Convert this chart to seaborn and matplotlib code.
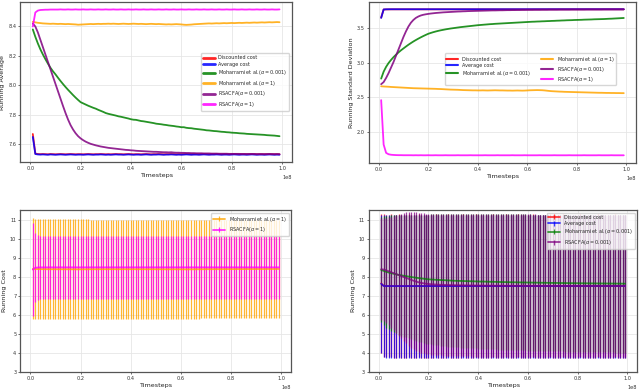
import numpy as np
import matplotlib
matplotlib.use("Agg")
import matplotlib.pyplot as plt
import seaborn as sns

# ---------------- data ----------------
timesteps = np.arange(1, 100) * 1_000_000

labels = ["Discounted cost", "Average cost",
          r"Moharrami et al.($\alpha = 0.001$)", r"Moharrami et al.($\alpha = 1$)",
          r"RSACFA($\alpha = 0.001$)", r"RSACFA($\alpha = 1$)"]
colors = ["red", "blue", "green", "orange", "purple", "magenta"]

avg_discounted = [
    7.670, 7.537, 7.534, 7.533, 7.534, 7.533, 7.532, 7.534, 7.533, 7.532,
    7.533, 7.534, 7.533, 7.532, 7.533, 7.534, 7.533, 7.532, 7.533, 7.533,
    7.532, 7.533, 7.534, 7.533, 7.532, 7.533, 7.533, 7.534, 7.533, 7.532,
    7.533, 7.532, 7.533, 7.534, 7.533, 7.533, 7.532, 7.533, 7.534, 7.533,
    7.532, 7.533, 7.533, 7.532, 7.533, 7.534, 7.533, 7.532, 7.533, 7.533,
    7.534, 7.533, 7.532, 7.533, 7.533, 7.534, 7.533, 7.532, 7.533, 7.532,
    7.533, 7.534, 7.533, 7.532, 7.533, 7.533, 7.532, 7.533, 7.534, 7.533,
    7.532, 7.533, 7.533, 7.534, 7.533, 7.532, 7.533, 7.533, 7.532, 7.533,
    7.534, 7.533, 7.532, 7.533, 7.533, 7.532, 7.533, 7.534, 7.533, 7.532,
    7.533, 7.533, 7.532, 7.533, 7.534, 7.533, 7.532, 7.533, 7.532]
avg_average = [
    7.650, 7.534, 7.531, 7.530, 7.531, 7.530, 7.529, 7.531, 7.530, 7.529,
    7.530, 7.531, 7.530, 7.529, 7.530, 7.531, 7.530, 7.529, 7.530, 7.530,
    7.529, 7.530, 7.531, 7.530, 7.529, 7.530, 7.530, 7.531, 7.530, 7.529,
    7.530, 7.529, 7.530, 7.531, 7.530, 7.530, 7.529, 7.530, 7.531, 7.530,
    7.529, 7.530, 7.530, 7.529, 7.530, 7.531, 7.530, 7.529, 7.530, 7.530,
    7.531, 7.530, 7.529, 7.530, 7.530, 7.531, 7.530, 7.529, 7.530, 7.529,
    7.530, 7.531, 7.530, 7.529, 7.530, 7.530, 7.529, 7.530, 7.531, 7.530,
    7.529, 7.530, 7.530, 7.531, 7.530, 7.529, 7.530, 7.530, 7.529, 7.530,
    7.531, 7.530, 7.529, 7.530, 7.530, 7.529, 7.530, 7.531, 7.530, 7.529,
    7.530, 7.530, 7.529, 7.530, 7.531, 7.530, 7.529, 7.530, 7.529]
avg_moh_001 = [
    8.380, 8.330, 8.285, 8.245, 8.210, 8.178, 8.148, 8.120, 8.096, 8.075,
    8.052, 8.030, 8.009, 7.989, 7.970, 7.952, 7.934, 7.917, 7.901, 7.886,
    7.878, 7.870, 7.862, 7.855, 7.848, 7.842, 7.834, 7.827, 7.820, 7.812,
    7.807, 7.803, 7.799, 7.795, 7.790, 7.787, 7.783, 7.779, 7.775, 7.770,
    7.767, 7.766, 7.762, 7.758, 7.756, 7.753, 7.750, 7.747, 7.744, 7.740,
    7.738, 7.736, 7.733, 7.731, 7.728, 7.726, 7.724, 7.721, 7.719, 7.716,
    7.716, 7.712, 7.710, 7.709, 7.706, 7.704, 7.702, 7.700, 7.698, 7.695,
    7.694, 7.692, 7.690, 7.689, 7.687, 7.685, 7.684, 7.682, 7.681, 7.679,
    7.678, 7.677, 7.675, 7.674, 7.673, 7.671, 7.670, 7.669, 7.668, 7.667,
    7.666, 7.665, 7.664, 7.662, 7.661, 7.660, 7.659, 7.657, 7.655]
avg_moh_1 = [
    8.432, 8.428, 8.425, 8.423, 8.421, 8.420, 8.419, 8.418, 8.419, 8.418,
    8.417, 8.418, 8.417, 8.416, 8.417, 8.416, 8.415, 8.414, 8.412, 8.413,
    8.414, 8.415, 8.416, 8.417, 8.416, 8.417, 8.418, 8.417, 8.418, 8.418,
    8.419, 8.418, 8.419, 8.418, 8.417, 8.418, 8.419, 8.418, 8.417, 8.418,
    8.419, 8.418, 8.417, 8.418, 8.417, 8.416, 8.417, 8.418, 8.417, 8.416,
    8.417, 8.416, 8.415, 8.414, 8.415, 8.414, 8.415, 8.416, 8.415, 8.414,
    8.412, 8.411, 8.412, 8.413, 8.415, 8.416, 8.417, 8.418, 8.419, 8.420,
    8.421, 8.420, 8.421, 8.422, 8.421, 8.422, 8.423, 8.422, 8.423, 8.424,
    8.423, 8.424, 8.425, 8.424, 8.425, 8.426, 8.425, 8.426, 8.427, 8.426,
    8.427, 8.428, 8.427, 8.428, 8.429, 8.428, 8.429, 8.430, 8.429]
avg_rsacfa_001 = [
    8.420, 8.400, 8.360, 8.310, 8.260, 8.210, 8.160, 8.110, 8.060, 8.010,
    7.960, 7.910, 7.860, 7.812, 7.768, 7.730, 7.700, 7.675, 7.655, 7.640,
    7.628, 7.618, 7.610, 7.603, 7.598, 7.593, 7.589, 7.585, 7.582, 7.579,
    7.576, 7.574, 7.572, 7.570, 7.568, 7.566, 7.564, 7.562, 7.561, 7.559,
    7.558, 7.556, 7.555, 7.554, 7.553, 7.552, 7.551, 7.550, 7.549, 7.549,
    7.548, 7.547, 7.546, 7.546, 7.545, 7.546, 7.544, 7.543, 7.543, 7.542,
    7.542, 7.541, 7.541, 7.540, 7.540, 7.539, 7.539, 7.539, 7.538, 7.538,
    7.538, 7.537, 7.537, 7.537, 7.536, 7.536, 7.536, 7.536, 7.535, 7.535,
    7.535, 7.535, 7.535, 7.534, 7.534, 7.534, 7.534, 7.534, 7.534, 7.533,
    7.533, 7.533, 7.533, 7.533, 7.533, 7.533, 7.533, 7.533, 7.533]
avg_rsacfa_1 = [
    8.400, 8.495, 8.508, 8.512, 8.513, 8.514, 8.514, 8.515, 8.515, 8.515,
    8.515, 8.516, 8.515, 8.515, 8.516, 8.515, 8.515, 8.516, 8.515, 8.515,
    8.516, 8.515, 8.515, 8.516, 8.515, 8.515, 8.516, 8.515, 8.515, 8.516,
    8.515, 8.515, 8.516, 8.515, 8.515, 8.516, 8.515, 8.515, 8.516, 8.515,
    8.515, 8.516, 8.515, 8.515, 8.516, 8.515, 8.515, 8.516, 8.515, 8.515,
    8.516, 8.515, 8.515, 8.516, 8.515, 8.515, 8.516, 8.515, 8.515, 8.516,
    8.515, 8.515, 8.516, 8.515, 8.515, 8.516, 8.515, 8.515, 8.516, 8.515,
    8.515, 8.516, 8.515, 8.515, 8.516, 8.515, 8.515, 8.516, 8.515, 8.515,
    8.516, 8.515, 8.515, 8.516, 8.515, 8.515, 8.516, 8.515, 8.515, 8.516,
    8.515, 8.515, 8.516, 8.515, 8.515, 8.516, 8.515, 8.515, 8.516]

std_discounted = [
    3.650, 3.766, 3.768, 3.768, 3.769, 3.769, 3.769, 3.769, 3.769, 3.769,
    3.769, 3.769, 3.769, 3.769, 3.769, 3.769, 3.769, 3.769, 3.769, 3.769,
    3.769, 3.769, 3.769, 3.769, 3.769, 3.769, 3.769, 3.769, 3.769, 3.769,
    3.769, 3.769, 3.769, 3.769, 3.769, 3.769, 3.769, 3.769, 3.769, 3.769,
    3.769, 3.769, 3.769, 3.769, 3.769, 3.769, 3.769, 3.769, 3.769, 3.769,
    3.769, 3.769, 3.769, 3.769, 3.769, 3.769, 3.769, 3.769, 3.769, 3.769,
    3.769, 3.769, 3.769, 3.769, 3.769, 3.769, 3.769, 3.769, 3.769, 3.769,
    3.769, 3.769, 3.769, 3.769, 3.769, 3.769, 3.769, 3.769, 3.769, 3.769,
    3.769, 3.769, 3.769, 3.769, 3.769, 3.769, 3.769, 3.769, 3.769, 3.769,
    3.769, 3.769, 3.769, 3.769, 3.769, 3.769, 3.769, 3.769, 3.769]
std_average = [
    3.645, 3.767, 3.769, 3.770, 3.770, 3.770, 3.770, 3.770, 3.770, 3.770,
    3.770, 3.770, 3.770, 3.770, 3.770, 3.770, 3.770, 3.770, 3.770, 3.770,
    3.770, 3.770, 3.770, 3.770, 3.770, 3.770, 3.770, 3.770, 3.770, 3.770,
    3.770, 3.770, 3.770, 3.770, 3.770, 3.770, 3.770, 3.770, 3.770, 3.770,
    3.770, 3.770, 3.770, 3.770, 3.770, 3.770, 3.770, 3.770, 3.770, 3.770,
    3.770, 3.770, 3.770, 3.770, 3.770, 3.770, 3.770, 3.770, 3.770, 3.770,
    3.770, 3.770, 3.770, 3.770, 3.770, 3.770, 3.770, 3.770, 3.770, 3.770,
    3.770, 3.770, 3.770, 3.770, 3.770, 3.770, 3.770, 3.770, 3.770, 3.770,
    3.770, 3.770, 3.770, 3.770, 3.770, 3.770, 3.770, 3.770, 3.770, 3.770,
    3.770, 3.770, 3.770, 3.770, 3.770, 3.770, 3.770, 3.770, 3.770]
std_moh_001 = [
    2.770, 2.870, 2.940, 2.995, 3.040, 3.080, 3.115, 3.148, 3.178, 3.205,
    3.232, 3.258, 3.282, 3.305, 3.326, 3.346, 3.365, 3.383, 3.400, 3.416,
    3.428, 3.439, 3.449, 3.458, 3.466, 3.473, 3.480, 3.486, 3.492, 3.497,
    3.502, 3.507, 3.512, 3.516, 3.520, 3.524, 3.528, 3.532, 3.536, 3.540,
    3.543, 3.546, 3.549, 3.552, 3.555, 3.557, 3.560, 3.562, 3.564, 3.566,
    3.568, 3.570, 3.572, 3.574, 3.576, 3.578, 3.580, 3.582, 3.584, 3.586,
    3.588, 3.590, 3.591, 3.593, 3.594, 3.596, 3.597, 3.599, 3.600, 3.602,
    3.603, 3.605, 3.606, 3.608, 3.609, 3.611, 3.612, 3.613, 3.615, 3.616,
    3.617, 3.618, 3.620, 3.621, 3.622, 3.623, 3.625, 3.626, 3.627, 3.628,
    3.629, 3.631, 3.633, 3.634, 3.636, 3.638, 3.640, 3.642, 3.644]
std_moh_1 = [
    2.660, 2.657, 2.655, 2.653, 2.650, 2.648, 2.646, 2.644, 2.642, 2.640,
    2.638, 2.636, 2.634, 2.632, 2.631, 2.630, 2.629, 2.628, 2.627, 2.626,
    2.625, 2.624, 2.623, 2.621, 2.620, 2.618, 2.616, 2.614, 2.612, 2.611,
    2.610, 2.609, 2.607, 2.605, 2.604, 2.603, 2.602, 2.601, 2.601, 2.600,
    2.600, 2.601, 2.600, 2.599, 2.600, 2.601, 2.602, 2.601, 2.600, 2.600,
    2.599, 2.598, 2.598, 2.597, 2.598, 2.599, 2.598, 2.597, 2.598, 2.600,
    2.602, 2.603, 2.604, 2.605, 2.604, 2.603, 2.600, 2.596, 2.592, 2.589,
    2.587, 2.585, 2.583, 2.582, 2.580, 2.579, 2.578, 2.577, 2.576, 2.575,
    2.574, 2.573, 2.572, 2.571, 2.570, 2.569, 2.568, 2.567, 2.566, 2.566,
    2.565, 2.564, 2.564, 2.563, 2.563, 2.562, 2.562, 2.561, 2.561]
std_rsacfa_001 = [
    2.690, 2.720, 2.780, 2.850, 2.930, 3.010, 3.100, 3.190, 3.280, 3.370,
    3.450, 3.520, 3.575, 3.615, 3.645, 3.665, 3.680, 3.690, 3.697, 3.703,
    3.708, 3.712, 3.716, 3.719, 3.722, 3.725, 3.727, 3.729, 3.731, 3.733,
    3.735, 3.737, 3.738, 3.740, 3.741, 3.743, 3.744, 3.745, 3.746, 3.747,
    3.748, 3.749, 3.750, 3.751, 3.752, 3.753, 3.753, 3.754, 3.755, 3.755,
    3.756, 3.757, 3.757, 3.758, 3.758, 3.759, 3.759, 3.760, 3.760, 3.761,
    3.761, 3.761, 3.762, 3.762, 3.762, 3.763, 3.763, 3.763, 3.764, 3.764,
    3.764, 3.764, 3.765, 3.765, 3.765, 3.765, 3.765, 3.766, 3.766, 3.766,
    3.766, 3.766, 3.766, 3.767, 3.767, 3.767, 3.767, 3.767, 3.767, 3.767,
    3.768, 3.768, 3.768, 3.768, 3.768, 3.768, 3.768, 3.768, 3.768]
std_rsacfa_1 = [
    2.460, 1.820, 1.700, 1.680, 1.673, 1.670, 1.668, 1.667, 1.667, 1.666,
    1.666, 1.666, 1.666, 1.665, 1.666, 1.665, 1.666, 1.665, 1.665, 1.666,
    1.665, 1.665, 1.666, 1.665, 1.665, 1.665, 1.666, 1.665, 1.665, 1.665,
    1.665, 1.666, 1.665, 1.665, 1.665, 1.665, 1.666, 1.665, 1.665, 1.665,
    1.665, 1.665, 1.666, 1.665, 1.665, 1.665, 1.665, 1.666, 1.665, 1.665,
    1.665, 1.665, 1.665, 1.666, 1.665, 1.665, 1.665, 1.665, 1.666, 1.665,
    1.665, 1.665, 1.665, 1.665, 1.666, 1.665, 1.665, 1.665, 1.665, 1.665,
    1.666, 1.665, 1.665, 1.665, 1.665, 1.665, 1.666, 1.665, 1.665, 1.665,
    1.665, 1.665, 1.666, 1.665, 1.665, 1.665, 1.665, 1.665, 1.666, 1.665,
    1.665, 1.665, 1.665, 1.666, 1.665, 1.665, 1.665, 1.665, 1.665]

averages = [avg_discounted, avg_average, avg_moh_001, avg_moh_1, avg_rsacfa_001, avg_rsacfa_1]
stds = [std_discounted, std_average, std_moh_001, std_moh_1, std_rsacfa_001, std_rsacfa_1]

# ---------------- style ----------------
sns.set_theme(style="ticks")
plt.rcParams["font.family"] = ["DejaVu Sans"]
plt.rcParams.update({
    "axes.edgecolor": "#555555",
    "axes.linewidth": 0.9,
    "xtick.labelsize": 3.6,
    "ytick.labelsize": 3.6,
    "xtick.major.size": 1.5,
    "ytick.major.size": 1.5,
    "xtick.major.width": 0.5,
    "ytick.major.width": 0.5,
    "xtick.color": "#333333",
    "ytick.color": "#333333",
    "axes.labelsize": 4.6,
    "axes.labelcolor": "#222222",
    "legend.fontsize": 3.5,
})

fig = plt.figure(figsize=(6.4, 3.89), dpi=100)
ax_tl = fig.add_axes([0.032, 0.5835, 0.424, 0.411])
ax_tr = fig.add_axes([0.5766, 0.582, 0.417, 0.413])
ax_bl = fig.add_axes([0.032, 0.0437, 0.423, 0.416])
ax_br = fig.add_axes([0.5766, 0.0437, 0.419, 0.416])

def style_axis(ax, ylabel):
    ax.grid(True, color="#e6e6e6", linewidth=0.6)
    ax.set_axisbelow(True)
    ax.set_xlabel("Timesteps", labelpad=1.5)
    ax.set_ylabel(ylabel, labelpad=2)
    ax.tick_params(pad=1.5)
    ax.xaxis.get_offset_text().set_fontsize(3.6)

# top-left: running average
for y, c, lab in zip(averages, colors, labels):
    sns.lineplot(x=timesteps, y=y, color=c, label=lab, ax=ax_tl, linewidth=1.3, alpha=0.85)
style_axis(ax_tl, "Running Average")
ax_tl.set_yticks([7.6, 7.8, 8.0, 8.2, 8.4])
leg = ax_tl.legend(loc="center right", frameon=True, handlelength=2.4,
                   borderpad=0.45, labelspacing=0.3)
for h in leg.get_lines():
    h.set_linewidth(2.0)

# top-right: running std
for y, c, lab in zip(stds, colors, labels):
    sns.lineplot(x=timesteps, y=y, color=c, label=lab, ax=ax_tr, linewidth=1.3, alpha=0.85)
style_axis(ax_tr, "Running Standard Deviation")
ax_tr.set_yticks([2.0, 2.5, 3.0, 3.5])
leg = ax_tr.legend(loc="upper right", bbox_to_anchor=(0.935, 0.695), ncol=2,
                   frameon=True, handlelength=2.4, columnspacing=2.2,
                   labelspacing=0.2, borderpad=0.3)
for h in leg.get_lines():
    h.set_linewidth(1.5)

# bottom-left: alpha = 1 with error bars
for i in [3, 5]:
    ax_bl.errorbar(timesteps, averages[i], yerr=stds[i], color=colors[i],
                   label=labels[i], linewidth=1.3, elinewidth=0.9, alpha=0.8)
style_axis(ax_bl, "Running Cost")
ax_bl.set_ylim(3, 11.53)
ax_bl.legend(loc="upper right", frameon=True, handlelength=2.4, labelspacing=0.4)

# bottom-right: alpha = 0.001 with error bars
for i in [0, 1, 2, 4]:
    ax_br.errorbar(timesteps, averages[i], yerr=stds[i], color=colors[i],
                   label=labels[i], linewidth=1.3, elinewidth=0.9, alpha=0.75)
style_axis(ax_br, "Running Cost")
ax_br.set_ylim(3, 11.53)
ax_br.legend(loc="upper right", frameon=True, handlelength=2.4, labelspacing=0.3)

for ax in [ax_bl, ax_br]:
    ax.set_yticks(range(3, 12))

fig.savefig("out.png", dpi=100)
